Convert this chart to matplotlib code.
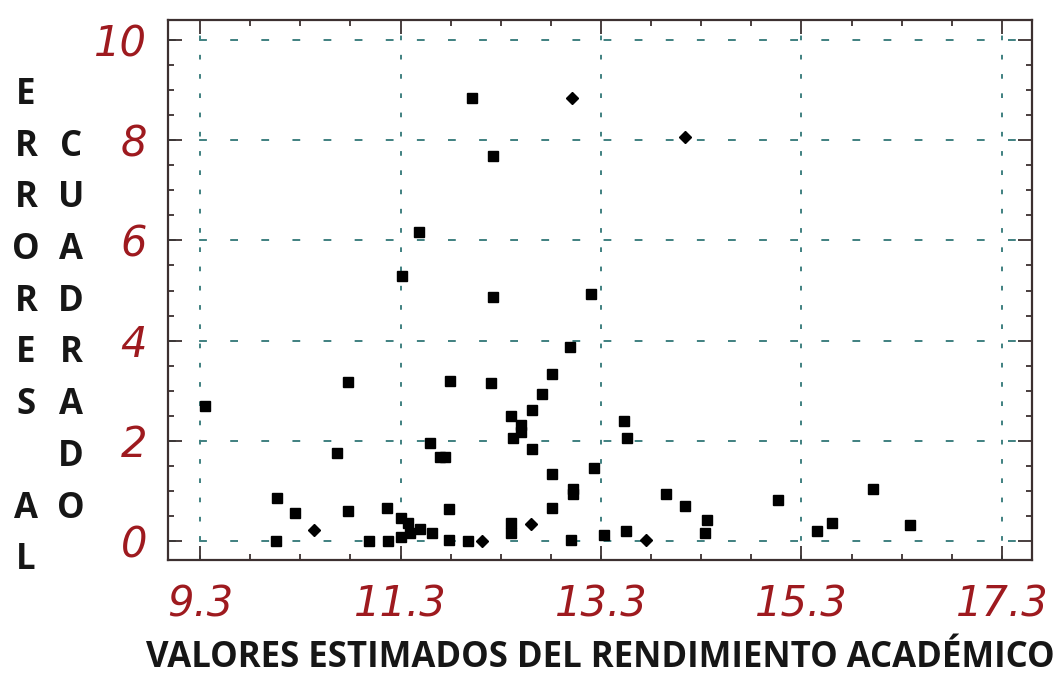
import matplotlib
matplotlib.use("Agg")
import matplotlib.pyplot as plt
from matplotlib.ticker import FixedLocator, MultipleLocator, FixedFormatter

# ---- data ----
sq_x = [9.35, 10.78, 10.67, 10.07, 10.25, 10.06, 10.78, 11.16, 10.99, 11.17,
        11.79, 12.20, 12.81, 12.71, 12.61, 12.40, 12.50, 12.50, 12.42, 12.61,
        11.59, 11.69, 11.74, 12.81, 11.78, 12.81, 11.30, 11.37, 11.49, 11.39,
        11.30, 11.61, 11.78, 11.97, 12.40, 12.40, 13.53, 13.56, 13.23, 13.02,
        13.02, 13.00, 13.33, 13.55, 13.95, 14.14, 14.36, 14.34, 15.07, 15.45,
        15.60, 16.01, 16.38, 12.01, 12.22, 11.48, 11.31, 12.22, 13.20, 12.99]
sq_y = [2.69, 3.17, 1.76, 0.86, 0.56, 0.00, 0.60, 0.66, 0.00, 0.00,
        3.19, 3.15, 3.33, 2.93, 2.61, 2.49, 2.32, 2.18, 2.06, 1.84,
        1.96, 1.68, 1.68, 1.34, 0.64, 0.66, 0.46, 0.36, 0.24, 0.16,
        0.08, 0.16, 0.02, 0.00, 0.36, 0.16, 2.40, 2.06, 1.46, 1.04,
        0.94, 0.02, 0.12, 0.20, 0.94, 0.70, 0.42, 0.16, 0.82, 0.20,
        0.36, 1.04, 0.32, 8.84, 7.68, 6.17, 5.29, 4.87, 4.93, 3.87]
dm_x = [13.01, 14.14, 10.44, 12.11, 13.75, 12.60]
dm_y = [8.84, 8.06, 0.22, 0.00, 0.02, 0.34]

xticks = [9.3, 11.3, 13.3, 15.3, 17.3]
xtick_labels = ["9.3", "11.3", "13.3", "15.3", "17.3"]
yticks = [0, 2, 4, 6, 8, 10]
ytick_labels = ["0", "2", "4", "6", "8", "10"]
ylabel_col1 = "ERRORES AL"
ylabel_col2 = " CUADRADO"
xlabel = "VALORES ESTIMADOS DEL RENDIMIENTO ACADÉMICO"

# ---- figure ----
W, H = 1064, 675
fig = plt.figure(figsize=(W / 100, H / 100), dpi=100)
ax = fig.add_axes([168 / W, 1 - 560 / H, (1032 - 168) / W, (560 - 20) / H])

ax.plot(sq_x, sq_y, linestyle="none", marker="s", ms=7.3, color="black", zorder=5)
ax.plot(dm_x, dm_y, linestyle="none", marker="D", ms=6.5, color="black", zorder=5)

ax.set_xlim(8.98, 17.6)
ax.set_ylim(-0.38, 10.4)

ax.xaxis.set_major_locator(FixedLocator(xticks))
ax.xaxis.set_major_formatter(FixedFormatter(xtick_labels))
ax.xaxis.set_minor_locator(MultipleLocator(0.5, offset=0.3))
ax.yaxis.set_major_locator(FixedLocator(yticks))
ax.yaxis.set_major_formatter(FixedFormatter(ytick_labels))
ax.yaxis.set_minor_locator(MultipleLocator(0.5))

frame_color = "#3c3030"
for sp in ax.spines.values():
    sp.set_color(frame_color)
    sp.set_linewidth(1.6)

lab_color = "#9e1a1f"
ax.tick_params(which="both", direction="in", top=True, right=True,
               color=frame_color, width=1.3)
ax.tick_params(which="major", length=10)
ax.tick_params(which="minor", length=4.5)
ax.tick_params(axis="x", which="major", pad=17, labelsize=30, labelcolor=lab_color)
ax.tick_params(axis="y", which="major", pad=15, labelsize=30, labelcolor=lab_color)
for t in ax.get_xticklabels() + ax.get_yticklabels():
    t.set_fontstyle("italic")
    t.set_family("DejaVu Sans")

grid_color = "#3f8080"
ax.xaxis.grid(True, which="major", color=grid_color, linewidth=1.4,
              linestyle=(0, (2.4, 7.5)))
ax.yaxis.grid(True, which="major", color=grid_color, linewidth=1.4,
              linestyle=(0, (4, 12)))
ax.set_axisbelow(True)

# vertical two-column y label
row0, rowstep = 95, 51.7
for col_text, xc in ((ylabel_col1, 26), (ylabel_col2, 71)):
    for i, ch in enumerate(col_text):
        if ch.strip():
            fig.text(xc / W, 1 - (row0 + i * rowstep) / H, ch, ha="center", va="center",
                     fontsize=25, fontweight="bold", family="Open Sans", color="#161616")

fig.text(600 / W, 1 - 658 / H, xlabel, ha="center", va="center",
         fontsize=25, fontweight="bold", family="Open Sans", color="#161616")

fig.savefig("out.png", dpi=100, facecolor="white")
